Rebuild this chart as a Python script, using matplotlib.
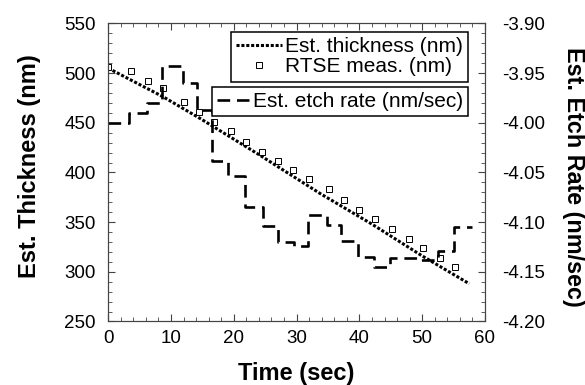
import matplotlib
matplotlib.use('Agg')
import matplotlib.pyplot as plt
from matplotlib.ticker import MultipleLocator
import numpy as np

plt.rcParams['font.family'] = ['Liberation Sans', 'DejaVu Sans']

# Estimated thickness (dotted line)
est_time = [0, 8.8, 14.6, 24, 33.7, 42, 50, 57.5]
est_thickness = [505, 476, 454.5, 418, 379, 348, 316, 288]

# RTSE measurements (open squares)
rtse_time = [0, 3.6, 6.4, 8.8, 12.1, 14.4, 16.8, 19.5, 22.0, 24.5, 27.0,
             29.5, 32.0, 35.2, 37.5, 39.9, 42.5, 45.2, 47.9, 50.2, 52.9, 55.3]
rtse_thickness = [506, 502.6, 492, 484.6, 471, 460.5, 451, 441.6, 431, 421,
                  411.6, 402, 393, 383, 372.3, 362.4, 353, 343, 333, 323.7,
                  313.7, 304.6]

# Estimated etch rate (step function, value holds until the next edge)
rate_edges = [0, 3.3, 6.2, 8.6, 11.9, 14.1, 16.6, 19.1, 21.8, 24.6, 27.0,
              29.6, 31.8, 34.8, 37.1, 39.7, 42.3, 44.9, 47.4, 49.8, 52.5,
              55.1, 57.9]
rate_values = [-4.000, -3.990, -3.980, -3.943, -3.960, -3.987, -4.038,
               -4.054, -4.085, -4.104, -4.120, -4.124, -4.093, -4.103,
               -4.119, -4.135, -4.145, -4.136, -4.136, -4.138, -4.129,
               -4.105]

fig = plt.figure(figsize=(5.85, 3.85), dpi=100)
ax = fig.add_axes([0.185, 0.165, 0.644, 0.774])
ax2 = ax.twinx()

line_est, = ax.plot(est_time, est_thickness, color='black', lw=2.2,
                    linestyle=(0, (1, 0.6)), label='Est. thickness (nm)')
pts, = ax.plot(rtse_time, rtse_thickness, linestyle='none', marker='s',
               markersize=5, markerfacecolor='white', markeredgecolor='black',
               markeredgewidth=0.7, label='RTSE meas. (nm)')

step_y = rate_values + [rate_values[-1]]
line_rate, = ax2.plot(rate_edges, step_y, drawstyle='steps-post',
                      color='black', lw=1.9, linestyle=(0, (4.8, 2.6)),
                      label='Est. etch rate (nm/sec)')

ax.set_xlim(0, 60)
ax.set_ylim(250, 550)
ax2.set_ylim(-4.20, -3.90)

ax.xaxis.set_major_locator(MultipleLocator(10))
ax.xaxis.set_minor_locator(MultipleLocator(2))
ax.yaxis.set_major_locator(MultipleLocator(50))
ax.yaxis.set_minor_locator(MultipleLocator(10))
ax2.yaxis.set_major_locator(MultipleLocator(0.05))
ax2.yaxis.set_minor_locator(MultipleLocator(0.01))
ax2.yaxis.set_major_formatter(plt.FormatStrFormatter('%.2f'))

ax.tick_params(which='both', direction='in', top=True, right=False,
               labelsize=13.5, color='#444444')
ax.tick_params(which='major', length=5, width=0.8)
ax.tick_params(which='minor', length=3, width=0.6)
ax.tick_params(axis='y', pad=9)
ax.tick_params(axis='x', pad=6)
ax2.tick_params(which='both', direction='in', labelsize=13.5, color='#444444', pad=12)
ax2.tick_params(which='major', length=5, width=0.8)
ax2.tick_params(which='minor', length=3, width=0.6)

for a in (ax, ax2):
    for s in a.spines.values():
        s.set_linewidth(0.8)
        s.set_color('#444444')

ax.set_xlabel('Time (sec)', fontsize=17, fontweight='bold', va='center')
ax.xaxis.set_label_coords(0.5, -0.173)
ax.set_ylabel('Est. Thickness (nm)', fontsize=17, fontweight='bold', va='center')
ax.yaxis.set_label_coords(-0.21, 0.522)
ax2.set_ylabel('Est. Etch Rate (nm/sec)', fontsize=16.8, fontweight='bold',
               rotation=-90, va='center')
ax2.yaxis.set_label_coords(1.234, 0.485)

leg1 = ax2.legend([line_est, pts], ['Est. thickness (nm)', 'RTSE meas. (nm)'],
                  loc='upper right', bbox_to_anchor=(0.955, 0.971),
                  fontsize=15, frameon=True, fancybox=False, framealpha=1,
                  edgecolor='black', handlelength=2.2, handletextpad=0.15,
                  labelspacing=0.05, borderpad=0.25, borderaxespad=0)
leg1.get_frame().set_linewidth(1.1)
ax2.add_artist(leg1)
leg2 = ax2.legend([line_rate], ['Est. etch rate (nm/sec)'],
                  loc='upper right', bbox_to_anchor=(0.955, 0.788),
                  fontsize=15, frameon=True, fancybox=False, framealpha=1,
                  edgecolor='black', handlelength=1.5, handletextpad=0.2,
                  borderpad=0.25, borderaxespad=0)
leg2.get_frame().set_linewidth(1.1)

fig.savefig('out.png', dpi=100)
